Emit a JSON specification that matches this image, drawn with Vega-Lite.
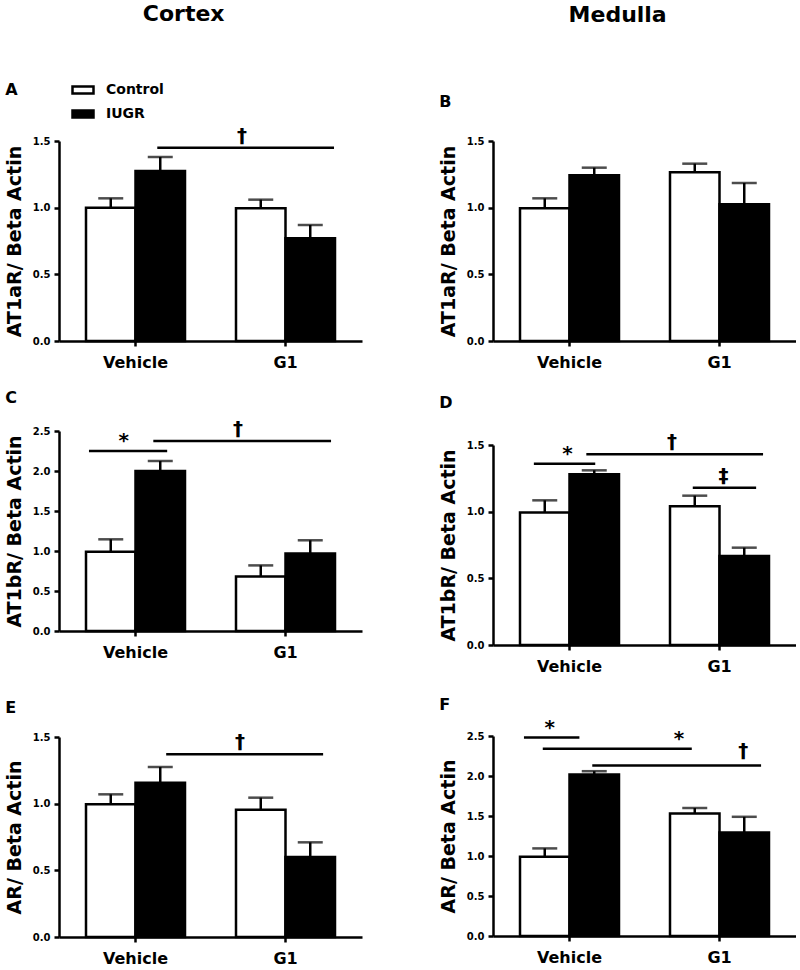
{
  "$schema": "https://vega.github.io/schema/vega-lite/v6.json",
  "padding": {"left": 5, "top": 3, "right": 0, "bottom": 0},
  "datasets": {
    "A": [
      {"treatment": "Vehicle", "group": "Control", "mean": 1.0, "upper": 1.07},
      {"treatment": "Vehicle", "group": "IUGR", "mean": 1.275, "upper": 1.38},
      {"treatment": "G1", "group": "Control", "mean": 0.995, "upper": 1.06},
      {"treatment": "G1", "group": "IUGR", "mean": 0.77, "upper": 0.87}
    ],
    "B": [
      {"treatment": "Vehicle", "group": "Control", "mean": 0.995, "upper": 1.07},
      {"treatment": "Vehicle", "group": "IUGR", "mean": 1.243, "upper": 1.3},
      {"treatment": "G1", "group": "Control", "mean": 1.265, "upper": 1.33},
      {"treatment": "G1", "group": "IUGR", "mean": 1.025, "upper": 1.185}
    ],
    "C": [
      {"treatment": "Vehicle", "group": "Control", "mean": 0.99, "upper": 1.146},
      {"treatment": "Vehicle", "group": "IUGR", "mean": 2.0, "upper": 2.125},
      {"treatment": "G1", "group": "Control", "mean": 0.68, "upper": 0.82},
      {"treatment": "G1", "group": "IUGR", "mean": 0.97, "upper": 1.134}
    ],
    "D": [
      {"treatment": "Vehicle", "group": "Control", "mean": 0.993, "upper": 1.085},
      {"treatment": "Vehicle", "group": "IUGR", "mean": 1.28, "upper": 1.31},
      {"treatment": "G1", "group": "Control", "mean": 1.04, "upper": 1.12},
      {"treatment": "G1", "group": "IUGR", "mean": 0.668, "upper": 0.73}
    ],
    "E": [
      {"treatment": "Vehicle", "group": "Control", "mean": 0.995, "upper": 1.07},
      {"treatment": "Vehicle", "group": "IUGR", "mean": 1.157, "upper": 1.275},
      {"treatment": "G1", "group": "Control", "mean": 0.955, "upper": 1.045},
      {"treatment": "G1", "group": "IUGR", "mean": 0.6, "upper": 0.71}
    ],
    "F": [
      {"treatment": "Vehicle", "group": "Control", "mean": 0.99, "upper": 1.095},
      {"treatment": "Vehicle", "group": "IUGR", "mean": 2.02, "upper": 2.06},
      {"treatment": "G1", "group": "Control", "mean": 1.53, "upper": 1.6},
      {"treatment": "G1", "group": "IUGR", "mean": 1.295, "upper": 1.49}
    ]
  },
  "spacing": 77,
  "resolve": {"scale": {"fill": "independent"}, "legend": {"fill": "independent"}},
  "hconcat": [
    {
      "title": {"text": "Cortex", "anchor": "middle", "frame": "bounds", "fontSize": 22, "fontWeight": "bold", "offset": 40},
      "spacing": 20,
      "resolve": {"scale": {"fill": "independent"}, "legend": {"fill": "independent"}},
      "vconcat": [
        {
          "width": 303, "height": 200,
          "title": {"text": "A", "anchor": "start", "frame": "bounds", "fontSize": 16, "fontWeight": "bold", "offset": -32},
          "layer": [
            {"data": {"name": "A"}, "mark": {"type": "bar", "stroke": "black", "strokeWidth": 2.5},
             "encoding": {
               "x": {"field": "treatment", "type": "nominal", "scale": {"domain": ["Vehicle", "G1"], "paddingInner": 0.34, "paddingOuter": 0.18}, "axis": {"title": null}},
               "xOffset": {"field": "group", "type": "nominal", "scale": {"domain": ["Control", "IUGR"], "paddingInner": 0, "paddingOuter": 0}},
               "y": {"field": "mean", "type": "quantitative", "scale": {"domain": [0, 1.5], "nice": false}, "axis": {"title": "AT1aR/ Beta Actin", "values": [0, 0.5, 1, 1.5], "tickCount": 10, "labelOverlap": false}},
               "fill": {"field": "group", "type": "nominal", "scale": {"domain": ["Control", "IUGR"], "range": ["white", "black"]},
                 "legend": {"title": null, "orient": "top", "direction": "vertical", "padding": 12, "offset": 6, "symbolType": "M-1,-0.33L1,-0.33L1,0.33L-1,0.33Z", "symbolSize": 441, "symbolStrokeColor": "black", "symbolStrokeWidth": 2.5, "labelFontSize": 14, "labelFontWeight": "bold", "labelColor": "black", "rowPadding": 3, "labelOffset": 11}}
             }},
            {"data": {"name": "A"}, "mark": {"type": "rule", "color": "black", "strokeWidth": 2.5},
             "encoding": {"x": {"field": "treatment", "type": "nominal"}, "xOffset": {"field": "group", "type": "nominal"}, "y": {"field": "mean", "type": "quantitative"}, "y2": {"field": "upper"}}},
            {"data": {"name": "A"}, "mark": {"type": "tick", "orient": "horizontal", "color": "black", "size": 25, "thickness": 2.5},
             "encoding": {"x": {"field": "treatment", "type": "nominal"}, "xOffset": {"field": "group", "type": "nominal"}, "y": {"field": "upper", "type": "quantitative"}}},
            {"data": {"values": [{"from": "Vehicle", "to": "G1", "level": 1.45, "symbol": "†"}]},
             "layer": [
               {"mark": {"type": "rule", "color": "black", "strokeWidth": 2.5}, "encoding": {"x": {"field": "from", "type": "nominal", "bandPosition": 0.72}, "x2": {"field": "to", "bandPosition": 0.99}, "y": {"field": "level", "type": "quantitative"}}},
               {"mark": {"type": "text", "fontSize": 20, "fontWeight": "bold", "baseline": "bottom", "dy": -2}, "encoding": {"x": {"field": "to", "type": "nominal", "bandPosition": 0.06}, "y": {"field": "level", "type": "quantitative"}, "text": {"field": "symbol"}}}
             ]}
          ]
        },
        {
          "spacing": 40,
          "vconcat": [
            {
              "width": 303, "height": 200,
              "title": {"text": "C", "anchor": "start", "frame": "bounds", "fontSize": 16, "fontWeight": "bold", "offset": 13},
              "layer": [
                {"data": {"name": "C"}, "mark": {"type": "bar", "stroke": "black", "strokeWidth": 2.5},
                 "encoding": {
                   "x": {"field": "treatment", "type": "nominal", "scale": {"domain": ["Vehicle", "G1"], "paddingInner": 0.34, "paddingOuter": 0.18}, "axis": {"title": null}},
                   "xOffset": {"field": "group", "type": "nominal", "scale": {"domain": ["Control", "IUGR"], "paddingInner": 0, "paddingOuter": 0}},
                   "y": {"field": "mean", "type": "quantitative", "scale": {"domain": [0, 2.5], "nice": false}, "axis": {"title": "AT1bR/ Beta Actin", "values": [0, 0.5, 1, 1.5, 2, 2.5], "tickCount": 10, "labelOverlap": false}},
                   "fill": {"field": "group", "type": "nominal", "scale": {"domain": ["Control", "IUGR"], "range": ["white", "black"]}, "legend": null}
                 }},
                {"data": {"name": "C"}, "mark": {"type": "rule", "color": "black", "strokeWidth": 2.5},
                 "encoding": {"x": {"field": "treatment", "type": "nominal"}, "xOffset": {"field": "group", "type": "nominal"}, "y": {"field": "mean", "type": "quantitative"}, "y2": {"field": "upper"}}},
                {"data": {"name": "C"}, "mark": {"type": "tick", "orient": "horizontal", "color": "black", "size": 25, "thickness": 2.5},
                 "encoding": {"x": {"field": "treatment", "type": "nominal"}, "xOffset": {"field": "group", "type": "nominal"}, "y": {"field": "upper", "type": "quantitative"}}},
                {"data": {"values": [{"from": "Vehicle", "to": "Vehicle", "level": 2.25, "symbol": "*"}]},
                 "layer": [
                   {"mark": {"type": "rule", "color": "black", "strokeWidth": 2.5}, "encoding": {"x": {"field": "from", "type": "nominal", "bandPosition": 0.03}, "x2": {"field": "to", "bandPosition": 0.82}, "y": {"field": "level", "type": "quantitative"}}},
                   {"mark": {"type": "text", "fontSize": 20, "fontWeight": "bold", "baseline": "bottom"}, "encoding": {"x": {"field": "from", "type": "nominal", "bandPosition": 0.38}, "y": {"field": "level", "type": "quantitative"}, "text": {"field": "symbol"}}}
                 ]},
                {"data": {"values": [{"from": "Vehicle", "to": "G1", "level": 2.375, "symbol": "†"}]},
                 "layer": [
                   {"mark": {"type": "rule", "color": "black", "strokeWidth": 2.5}, "encoding": {"x": {"field": "from", "type": "nominal", "bandPosition": 0.68}, "x2": {"field": "to", "bandPosition": 0.96}, "y": {"field": "level", "type": "quantitative"}}},
                   {"mark": {"type": "text", "fontSize": 20, "fontWeight": "bold", "baseline": "bottom", "dy": -2}, "encoding": {"x": {"field": "to", "type": "nominal", "bandPosition": 0.02}, "y": {"field": "level", "type": "quantitative"}, "text": {"field": "symbol"}}}
                 ]}
              ]
            },
            {
              "width": 303, "height": 200,
              "title": {"text": "E", "anchor": "start", "frame": "bounds", "fontSize": 16, "fontWeight": "bold", "offset": 16},
              "layer": [
                {"data": {"name": "E"}, "mark": {"type": "bar", "stroke": "black", "strokeWidth": 2.5},
                 "encoding": {
                   "x": {"field": "treatment", "type": "nominal", "scale": {"domain": ["Vehicle", "G1"], "paddingInner": 0.34, "paddingOuter": 0.18}, "axis": {"title": null}},
                   "xOffset": {"field": "group", "type": "nominal", "scale": {"domain": ["Control", "IUGR"], "paddingInner": 0, "paddingOuter": 0}},
                   "y": {"field": "mean", "type": "quantitative", "scale": {"domain": [0, 1.5], "nice": false}, "axis": {"title": "AR/ Beta Actin", "values": [0, 0.5, 1, 1.5], "tickCount": 10, "labelOverlap": false}},
                   "fill": {"field": "group", "type": "nominal", "scale": {"domain": ["Control", "IUGR"], "range": ["white", "black"]}, "legend": null}
                 }},
                {"data": {"name": "E"}, "mark": {"type": "rule", "color": "black", "strokeWidth": 2.5},
                 "encoding": {"x": {"field": "treatment", "type": "nominal"}, "xOffset": {"field": "group", "type": "nominal"}, "y": {"field": "mean", "type": "quantitative"}, "y2": {"field": "upper"}}},
                {"data": {"name": "E"}, "mark": {"type": "tick", "orient": "horizontal", "color": "black", "size": 25, "thickness": 2.5},
                 "encoding": {"x": {"field": "treatment", "type": "nominal"}, "xOffset": {"field": "group", "type": "nominal"}, "y": {"field": "upper", "type": "quantitative"}}},
                {"data": {"values": [{"from": "Vehicle", "to": "G1", "level": 1.37, "symbol": "†"}]},
                 "layer": [
                   {"mark": {"type": "rule", "color": "black", "strokeWidth": 2.5}, "encoding": {"x": {"field": "from", "type": "nominal", "bandPosition": 0.81}, "x2": {"field": "to", "bandPosition": 0.88}, "y": {"field": "level", "type": "quantitative"}}},
                   {"mark": {"type": "text", "fontSize": 20, "fontWeight": "bold", "baseline": "bottom", "dy": -2}, "encoding": {"x": {"field": "to", "type": "nominal", "bandPosition": 0.04}, "y": {"field": "level", "type": "quantitative"}, "text": {"field": "symbol"}}}
                 ]}
              ]
            }
          ]
        }
      ]
    },
    {
      "title": {"text": "Medulla", "anchor": "middle", "frame": "bounds", "fontSize": 22, "fontWeight": "bold", "offset": 67},
      "spacing": 25,
      "resolve": {"scale": {"fill": "independent"}, "legend": {"fill": "independent"}},
      "vconcat": [
        {
          "width": 303, "height": 200,
          "title": {"text": "B", "anchor": "start", "frame": "bounds", "fontSize": 16, "fontWeight": "bold", "offset": 26},
          "layer": [
            {"data": {"name": "B"}, "mark": {"type": "bar", "stroke": "black", "strokeWidth": 2.5},
             "encoding": {
               "x": {"field": "treatment", "type": "nominal", "scale": {"domain": ["Vehicle", "G1"], "paddingInner": 0.34, "paddingOuter": 0.18}, "axis": {"title": null}},
               "xOffset": {"field": "group", "type": "nominal", "scale": {"domain": ["Control", "IUGR"], "paddingInner": 0, "paddingOuter": 0}},
               "y": {"field": "mean", "type": "quantitative", "scale": {"domain": [0, 1.5], "nice": false}, "axis": {"title": "AT1aR/ Beta Actin", "values": [0, 0.5, 1, 1.5], "tickCount": 10, "labelOverlap": false}},
               "fill": {"field": "group", "type": "nominal", "scale": {"domain": ["Control", "IUGR"], "range": ["white", "black"]}, "legend": null}
             }},
            {"data": {"name": "B"}, "mark": {"type": "rule", "color": "black", "strokeWidth": 2.5},
             "encoding": {"x": {"field": "treatment", "type": "nominal"}, "xOffset": {"field": "group", "type": "nominal"}, "y": {"field": "mean", "type": "quantitative"}, "y2": {"field": "upper"}}},
            {"data": {"name": "B"}, "mark": {"type": "tick", "orient": "horizontal", "color": "black", "size": 25, "thickness": 2.5},
             "encoding": {"x": {"field": "treatment", "type": "nominal"}, "xOffset": {"field": "group", "type": "nominal"}, "y": {"field": "upper", "type": "quantitative"}}}
          ]
        },
        {
          "spacing": 22,
          "vconcat": [
            {
              "width": 303, "height": 200,
              "title": {"text": "D", "anchor": "start", "frame": "bounds", "fontSize": 16, "fontWeight": "bold", "offset": 21},
              "layer": [
                {"data": {"name": "D"}, "mark": {"type": "bar", "stroke": "black", "strokeWidth": 2.5},
                 "encoding": {
                   "x": {"field": "treatment", "type": "nominal", "scale": {"domain": ["Vehicle", "G1"], "paddingInner": 0.34, "paddingOuter": 0.18}, "axis": {"title": null}},
                   "xOffset": {"field": "group", "type": "nominal", "scale": {"domain": ["Control", "IUGR"], "paddingInner": 0, "paddingOuter": 0}},
                   "y": {"field": "mean", "type": "quantitative", "scale": {"domain": [0, 1.5], "nice": false}, "axis": {"title": "AT1bR/ Beta Actin", "values": [0, 0.5, 1, 1.5], "tickCount": 10, "labelOverlap": false}},
                   "fill": {"field": "group", "type": "nominal", "scale": {"domain": ["Control", "IUGR"], "range": ["white", "black"]}, "legend": null}
                 }},
                {"data": {"name": "D"}, "mark": {"type": "rule", "color": "black", "strokeWidth": 2.5},
                 "encoding": {"x": {"field": "treatment", "type": "nominal"}, "xOffset": {"field": "group", "type": "nominal"}, "y": {"field": "mean", "type": "quantitative"}, "y2": {"field": "upper"}}},
                {"data": {"name": "D"}, "mark": {"type": "tick", "orient": "horizontal", "color": "black", "size": 25, "thickness": 2.5},
                 "encoding": {"x": {"field": "treatment", "type": "nominal"}, "xOffset": {"field": "group", "type": "nominal"}, "y": {"field": "upper", "type": "quantitative"}}},
                {"data": {"values": [{"from": "Vehicle", "to": "Vehicle", "level": 1.36, "symbol": "*"}]},
                 "layer": [
                   {"mark": {"type": "rule", "color": "black", "strokeWidth": 2.5}, "encoding": {"x": {"field": "from", "type": "nominal", "bandPosition": 0.14}, "x2": {"field": "to", "bandPosition": 0.76}, "y": {"field": "level", "type": "quantitative"}}},
                   {"mark": {"type": "text", "fontSize": 20, "fontWeight": "bold", "baseline": "bottom"}, "encoding": {"x": {"field": "from", "type": "nominal", "bandPosition": 0.48}, "y": {"field": "level", "type": "quantitative"}, "text": {"field": "symbol"}}}
                 ]},
                {"data": {"values": [{"from": "Vehicle", "to": "G1", "level": 1.43, "symbol": "†"}]},
                 "layer": [
                   {"mark": {"type": "rule", "color": "black", "strokeWidth": 2.5}, "encoding": {"x": {"field": "from", "type": "nominal", "bandPosition": 0.67}, "x2": {"field": "to", "bandPosition": 0.94}, "y": {"field": "level", "type": "quantitative"}}},
                   {"mark": {"type": "text", "fontSize": 20, "fontWeight": "bold", "baseline": "bottom", "dy": -2}, "encoding": {"x": {"field": "to", "type": "nominal", "bandPosition": 0.02}, "y": {"field": "level", "type": "quantitative"}, "text": {"field": "symbol"}}}
                 ]},
                {"data": {"values": [{"from": "G1", "to": "G1", "level": 1.18, "symbol": "‡"}]},
                 "layer": [
                   {"mark": {"type": "rule", "color": "black", "strokeWidth": 2.5}, "encoding": {"x": {"field": "from", "type": "nominal", "bandPosition": 0.23}, "x2": {"field": "to", "bandPosition": 0.87}, "y": {"field": "level", "type": "quantitative"}}},
                   {"mark": {"type": "text", "fontSize": 20, "fontWeight": "bold", "baseline": "bottom", "dy": -2}, "encoding": {"x": {"field": "from", "type": "nominal", "bandPosition": 0.54}, "y": {"field": "level", "type": "quantitative"}, "text": {"field": "symbol"}}}
                 ]}
              ]
            },
            {
              "width": 303, "height": 200,
              "title": {"text": "F", "anchor": "start", "frame": "bounds", "fontSize": 16, "fontWeight": "bold", "offset": 5},
              "layer": [
                {"data": {"name": "F"}, "mark": {"type": "bar", "stroke": "black", "strokeWidth": 2.5},
                 "encoding": {
                   "x": {"field": "treatment", "type": "nominal", "scale": {"domain": ["Vehicle", "G1"], "paddingInner": 0.34, "paddingOuter": 0.18}, "axis": {"title": null}},
                   "xOffset": {"field": "group", "type": "nominal", "scale": {"domain": ["Control", "IUGR"], "paddingInner": 0, "paddingOuter": 0}},
                   "y": {"field": "mean", "type": "quantitative", "scale": {"domain": [0, 2.5], "nice": false}, "axis": {"title": "AR/ Beta Actin", "values": [0, 0.5, 1, 1.5, 2, 2.5], "tickCount": 10, "labelOverlap": false}},
                   "fill": {"field": "group", "type": "nominal", "scale": {"domain": ["Control", "IUGR"], "range": ["white", "black"]}, "legend": null}
                 }},
                {"data": {"name": "F"}, "mark": {"type": "rule", "color": "black", "strokeWidth": 2.5},
                 "encoding": {"x": {"field": "treatment", "type": "nominal"}, "xOffset": {"field": "group", "type": "nominal"}, "y": {"field": "mean", "type": "quantitative"}, "y2": {"field": "upper"}}},
                {"data": {"name": "F"}, "mark": {"type": "tick", "orient": "horizontal", "color": "black", "size": 25, "thickness": 2.5},
                 "encoding": {"x": {"field": "treatment", "type": "nominal"}, "xOffset": {"field": "group", "type": "nominal"}, "y": {"field": "upper", "type": "quantitative"}}},
                {"data": {"values": [{"from": "Vehicle", "to": "Vehicle", "level": 2.48, "symbol": "*"}]},
                 "layer": [
                   {"mark": {"type": "rule", "color": "black", "strokeWidth": 2.5}, "encoding": {"x": {"field": "from", "type": "nominal", "bandPosition": 0.04}, "x2": {"field": "to", "bandPosition": 0.6}, "y": {"field": "level", "type": "quantitative"}}},
                   {"mark": {"type": "text", "fontSize": 20, "fontWeight": "bold", "baseline": "bottom"}, "encoding": {"x": {"field": "from", "type": "nominal", "bandPosition": 0.3}, "y": {"field": "level", "type": "quantitative"}, "text": {"field": "symbol"}}}
                 ]},
                {"data": {"values": [{"from": "Vehicle", "to": "G1", "level": 2.34, "symbol": "*"}]},
                 "layer": [
                   {"mark": {"type": "rule", "color": "black", "strokeWidth": 2.5}, "encoding": {"x": {"field": "from", "type": "nominal", "bandPosition": 0.23}, "x2": {"field": "to", "bandPosition": 0.22}, "y": {"field": "level", "type": "quantitative"}}},
                   {"mark": {"type": "text", "fontSize": 20, "fontWeight": "bold", "baseline": "bottom"}, "encoding": {"x": {"field": "to", "type": "nominal", "bandPosition": 0.09}, "y": {"field": "level", "type": "quantitative"}, "text": {"field": "symbol"}}}
                 ]},
                {"data": {"values": [{"from": "Vehicle", "to": "G1", "level": 2.13, "symbol": "†"}]},
                 "layer": [
                   {"mark": {"type": "rule", "color": "black", "strokeWidth": 2.5}, "encoding": {"x": {"field": "from", "type": "nominal", "bandPosition": 0.73}, "x2": {"field": "to", "bandPosition": 0.92}, "y": {"field": "level", "type": "quantitative"}}},
                   {"mark": {"type": "text", "fontSize": 20, "fontWeight": "bold", "baseline": "bottom", "dy": -5}, "encoding": {"x": {"field": "to", "type": "nominal", "bandPosition": 0.74}, "y": {"field": "level", "type": "quantitative"}, "text": {"field": "symbol"}}}
                 ]}
              ]
            }
          ]
        }
      ]
    }
  ],
  "config": {
    "font": "DejaVu Sans",
    "view": {"stroke": null},
    "title": {"color": "black", "fontWeight": "bold"},
    "text": {"font": "DejaVu Sans", "color": "black"},
    "legend": {"labelFont": "DejaVu Sans"},
    "axis": {
      "domainColor": "black", "domainWidth": 2.5, "tickColor": "black", "tickWidth": 2.5, "tickSize": 5,
      "labelFont": "DejaVu Sans", "labelFontWeight": "bold", "labelColor": "black", "labelFontSize": 10,
      "titleFont": "DejaVu Sans", "titleFontWeight": "bold", "titleColor": "black", "titleFontSize": 19,
      "grid": false, "labelPadding": 4, "titlePadding": 8, "labelOverlap": false
    },
    "axisY": {"format": ".1f"},
    "axisX": {"labelAngle": 0, "labelFontSize": 16, "labelPadding": 8}
  }
}
